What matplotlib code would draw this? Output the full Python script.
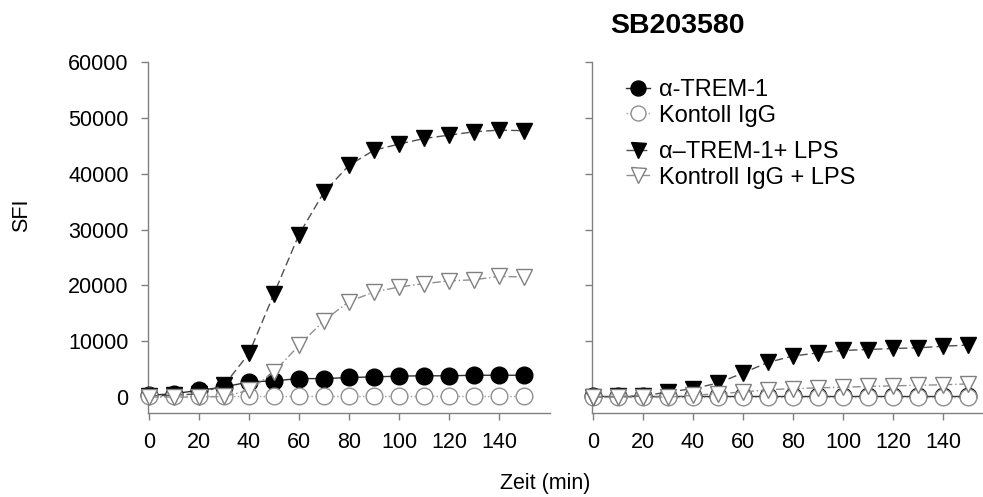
import numpy as np
import matplotlib.pyplot as plt
from matplotlib.lines import Line2D

plt.rcParams['font.family'] = ['Liberation Sans', 'DejaVu Sans']

# time points (min)
zeit = [0, 10, 20, 30, 40, 50, 60, 70, 80, 90, 100, 110, 120, 130, 140, 150]

# left panel (no inhibitor)
trem_l = [300, 600, 1200, 1800, 2700, 2900, 3300, 3300, 3500, 3600, 3750, 3800, 3800, 3900, 3900, 3900]
igg_l = [100, 100, 100, 100, 100, 100, 100, 100, 100, 100, 100, 100, 100, 100, 100, 100]
trem_lps_l = [200, 300, 600, 2100, 7800, 18500, 29100, 36700, 41500, 44200, 45300, 46300, 46900, 47500, 47800, 47700]
igg_lps_l = [0, 0, 0, 100, 1200, 4500, 9250, 13700, 17100, 18800, 19700, 20300, 20800, 21000, 21600, 21500]

# right panel (SB203580)
trem_r = [100, 100, 100, 100, 100, 100, 100, 100, 100, 100, 100, 100, 100, 100, 100, 100]
igg_r = [0, 0, 0, 0, 0, 0, 0, 0, 0, 0, 0, 0, 0, 0, 0, 0]
trem_lps_r = [0, 100, 200, 900, 1500, 2500, 4300, 6200, 7350, 7900, 8350, 8500, 8700, 8800, 9100, 9300]
igg_lps_r = [0, 0, 0, 0, 300, 600, 900, 1300, 1500, 1650, 1750, 1900, 2000, 2100, 2200, 2350]

labels = ['\u03b1-TREM-1', 'Kontoll IgG', '\u03b1\u2013TREM-1+ LPS', 'Kontroll IgG + LPS']

ms = 12
sty = [
    dict(marker='o', color='#303030', ls='-', lw=1.0, mfc='black', mec='black', ms=ms),
    dict(marker='o', color='#a0a0a0', ls=':', lw=1.0, mfc='white', mec='#909090', ms=ms),
    dict(marker='v', color='#505050', ls=(0, (6, 3)), lw=1.0, mfc='black', mec='black', ms=ms),
    dict(marker='v', color='#909090', ls=(0, (6, 2, 1, 2)), lw=1.0, mfc='white', mec='#808080', ms=ms),
]

fig = plt.figure(figsize=(9.83, 4.97), dpi=100)
ax1 = fig.add_axes([148/983, 84/497, 402/983, 351/497])
ax2 = fig.add_axes([592/983, 84/497, 402/983, 351/497])

left_data = [trem_l, igg_l, trem_lps_l, igg_lps_l]
right_data = [trem_r, igg_r, trem_lps_r, igg_lps_r]

for ax, data in [(ax1, left_data), (ax2, right_data)]:
    # open symbols over filled ones where they overlap, like the original
    for i in [1, 3, 0, 2]:
        ax.plot(zeit, data[i], clip_on=False, zorder=3 + i, **sty[i])
    ax.set_xlim(-0.4, 160.4)
    ax.set_ylim(-2860, 60000)
    ax.set_xticks(np.arange(0, 141, 20))
    ax.set_yticks(np.arange(0, 60001, 10000))
    for s in ['top', 'right']:
        ax.spines[s].set_visible(False)
    for s in ['left', 'bottom']:
        ax.spines[s].set_color('#808080')
        ax.spines[s].set_linewidth(1.0)
    ax.tick_params(direction='out', length=5, width=1, color='#808080',
                   labelsize=15.5, pad=9)

ax2.tick_params(axis='y', labelleft=False)

fig.text(22/983, 1 - 215/497, 'SFI', rotation=90, ha='center', va='center', fontsize=15.5)
fig.text(545/983, 1 - 483/497, 'Zeit (min)', ha='center', va='center', fontsize=15.5)
fig.text(677/983, 1 - 26/497, 'SB203580', ha='center', va='center', fontsize=20.5, fontweight='bold')

handles = [Line2D([], [], **sty[i]) for i in range(4)]
kw = dict(frameon=False, fontsize=17, handlelength=1.0, handletextpad=0.4,
          labelspacing=0.15, borderpad=0, borderaxespad=0, markerscale=0.9)
leg1 = ax2.legend(handles[:2], labels[:2], loc='upper left',
                  bbox_to_anchor=(626/983, 1 - 79/497), bbox_transform=fig.transFigure, **kw)
ax2.add_artist(leg1)
ax2.legend(handles[2:], labels[2:], loc='upper left',
           bbox_to_anchor=(626/983, 1 - 141/497), bbox_transform=fig.transFigure, **kw)

fig.savefig('out.png', dpi=100)
